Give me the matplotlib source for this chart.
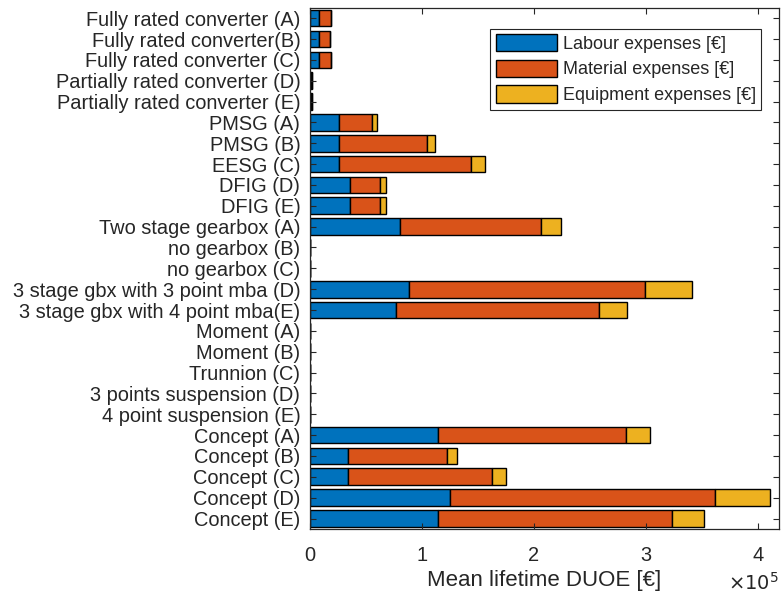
import numpy as np
import matplotlib.pyplot as plt
from matplotlib.ticker import FuncFormatter

plt.rcParams['font.family'] = ['Liberation Sans', 'DejaVu Sans']

# Komponenten / Konzepte (von oben nach unten)
categories = [
    "Fully rated converter (A)", "Fully rated converter(B)", "Fully rated converter (C)",
    "Partially rated converter (D)", "Partially rated converter (E)",
    "PMSG (A)", "PMSG (B)", "EESG (C)", "DFIG (D)", "DFIG (E)",
    "Two stage gearbox (A)", "no gearbox (B)", "no gearbox (C)",
    "3 stage gbx with 3 point mba (D)", "3 stage gbx with 4 point mba(E)",
    "Moment (A)", "Moment (B)", "Trunnion (C)",
    "3 points suspension (D)", "4 point suspension (E)",
    "Concept (A)", "Concept (B)", "Concept (C)", "Concept (D)", "Concept (E)",
]

# mittlere DUOE-Kosten ueber die Lebensdauer in EUR
labour = [8300, 8300, 8300, 500, 500,
          26000, 26000, 26000, 35400, 35400,
          80400, 0, 0, 88700, 76500,
          0, 0, 0, 0, 0,
          114000, 34000, 34000, 125400, 114000]
material = [10200, 9800, 10200, 800, 800,
            29400, 78700, 118000, 27100, 27100,
            126100, 0, 0, 210100, 181800,
            0, 0, 0, 0, 0,
            168000, 88400, 128800, 236600, 209000]
equipment = [0, 0, 0, 0, 0,
             4700, 6600, 12000, 5400, 5400,
             17900, 0, 0, 42300, 24500,
             0, 0, 0, 0, 0,
             22000, 8900, 12500, 48600, 29000]

series_names = ["Labour expenses [€]", "Material expenses [€]", "Equipment expenses [€]"]
farben = ["#0072BD", "#D95319", "#EDB120"]
grau = "#262626"

fig = plt.figure(figsize=(7.83, 5.95), dpi=100)
ax = fig.add_axes([0.396, 0.111, 0.599, 0.876])

y = np.arange(1, len(categories) + 1)
links = np.zeros(len(categories))
for werte, name, farbe in zip([labour, material, equipment], series_names, farben):
    werte = np.array(werte, dtype=float)
    ax.barh(y, werte, left=links, height=0.8, color=farbe, edgecolor="black",
            linewidth=1.0, label=name)
    links += werte

ax.set_ylim(len(categories) + 0.5, 0.5)
ax.set_xlim(0, 4.19e5)
ax.set_yticks(y)
ax.set_yticklabels(categories)
ax.set_xticks([0, 1e5, 2e5, 3e5, 4e5])
ax.xaxis.set_major_formatter(FuncFormatter(lambda v, p: "{:g}".format(v / 1e5)))

ax.tick_params(axis="both", direction="in", top=True, right=True, length=4,
               width=0.8, colors=grau, labelsize=14.4)
ax.tick_params(axis="y", pad=7)
ax.tick_params(axis="x", pad=12)
for s in ax.spines.values():
    s.set_color(grau)
    s.set_linewidth(0.9)

ax.set_xlabel("Mean lifetime DUOE [€]", fontsize=16, color=grau, labelpad=4)
ax.text(1.0, -0.103, r"$\times10^{5}$", transform=ax.transAxes, ha="right",
        va="center", fontsize=14, color=grau)

leg = ax.legend(loc="upper right", bbox_to_anchor=(0.962, 0.96), fontsize=13,
                handlelength=3.4, handleheight=1.1, labelspacing=0.38,
                handletextpad=0.3, borderpad=0.3, borderaxespad=0.0,
                fancybox=False, framealpha=1, edgecolor=grau)
leg.get_frame().set_linewidth(0.8)
for t in leg.get_texts():
    t.set_color(grau)

fig.savefig("out.png", dpi=100)
